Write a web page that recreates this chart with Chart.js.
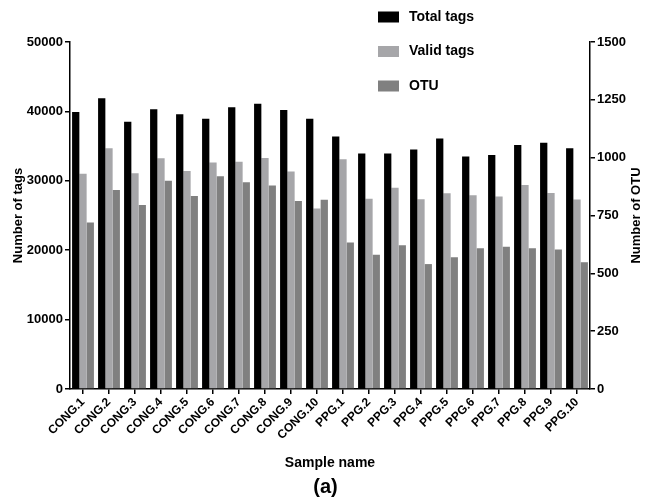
<!DOCTYPE html>
<html>
<head>
<meta charset="utf-8">
<script src="https://cdn.jsdelivr.net/npm/chart.js@4/dist/chart.umd.min.js"></script>
<style>
  html, body { margin: 0; padding: 0; background: #fff; }
</style>
</head>
<body>
<canvas id="bar-chart" width="651" height="500"></canvas>
<script>
// sample names
var samples = ["CONG.1", "CONG.2", "CONG.3", "CONG.4", "CONG.5", "CONG.6", "CONG.7", "CONG.8", "CONG.9", "CONG.10",
               "PPG.1", "PPG.2", "PPG.3", "PPG.4", "PPG.5", "PPG.6", "PPG.7", "PPG.8", "PPG.9", "PPG.10"];
// number of tags (left axis)
var totalTags = [39900, 41900, 38500, 40300, 39600, 38950, 40600, 41100, 40200, 38950,
                 36400, 33950, 33950, 34500, 36100, 33500, 33700, 35150, 35500, 34700];
var validTags = [31000, 34700, 31100, 33250, 31400, 32650, 32750, 33300, 31350, 26000,
                 33100, 27400, 29000, 27350, 28200, 27900, 27750, 29400, 28250, 27300];
// number of OTU (right axis)
var otu = [720, 860, 795, 900, 834, 920, 894, 880, 813, 818,
           633, 580, 621, 540, 570, 608, 615, 608, 603, 548];

var FONT = "'Liberation Sans', Arial, Helvetica, sans-serif";

// legend drawn as a vertical list at the top right,
// plus the right axis title (reads bottom to top like the left one)
var extras = {
    id: 'extras',
    afterDraw: function(chart) {
        var ctx = chart.ctx;
        ctx.save();
        ctx.font = "bold 14px " + FONT;
        ctx.textBaseline = 'middle';
        ctx.textAlign = 'left';
        chart.data.datasets.forEach(function(ds, i) {
            var y = 17 + i * 34.5;
            ctx.fillStyle = ds.backgroundColor;
            ctx.fillRect(378, y - 5.5, 21, 11);
            ctx.fillStyle = '#000';
            ctx.fillText(ds.label, 409, y);
        });

        var area = chart.chartArea;
        ctx.translate(636, (area.top + area.bottom) / 2);
        ctx.rotate(-Math.PI / 2);
        ctx.font = "bold 13px " + FONT;
        ctx.textAlign = 'center';
        ctx.fillText('Number of OTU', 0, 0);
        ctx.restore();
    }
};

new Chart(document.getElementById("bar-chart"), {
    type: 'bar',
    data: {
        labels: samples,
        datasets: [
            {
                label: "Total tags",
                backgroundColor: "#000000",
                data: totalTags,
                yAxisID: 'y'
            },
            {
                label: "Valid tags",
                backgroundColor: "#a6a6a9",
                data: validTags,
                yAxisID: 'y'
            },
            {
                label: "OTU",
                backgroundColor: "#808080",
                data: otu,
                yAxisID: 'y2'
            }
        ]
    },
    options: {
        responsive: false,
        animation: false,
        layout: {
            padding: { top: 42, left: 0, right: 0, bottom: 0 }
        },
        datasets: {
            bar: {
                barPercentage: 1.0,
                categoryPercentage: 0.84
            }
        },
        plugins: {
            legend: { display: false },
            tooltip: { enabled: false },
            title: {
                display: true,
                position: 'bottom',
                text: '(a)',
                color: '#000',
                font: { family: FONT, size: 20, weight: 'bold' },
                padding: { top: 3, bottom: 1 }
            }
        },
        scales: {
            x: {
                afterFit: function(scale) { scale.height = 83; },
                grid: { display: true, offset: false, drawOnChartArea: false, color: '#000', tickLength: 5, lineWidth: 1.5 },
                border: { color: '#000', width: 1.5 },
                ticks: {
                    color: '#000',
                    minRotation: 45,
                    maxRotation: 45,
                    padding: 1,
                    font: { family: FONT, size: 12, weight: 'bold' }
                },
                title: {
                    display: true,
                    text: 'Sample name',
                    color: '#000',
                    font: { family: FONT, size: 14, weight: 'bold' },
                    padding: { top: 0, bottom: 0 }
                }
            },
            y: {
                position: 'left',
                min: 0,
                max: 50000,
                afterFit: function(scale) { scale.width = 70; },
                grid: { display: true, drawOnChartArea: false, color: '#000', tickLength: 5, lineWidth: 1.5 },
                border: { color: '#000', width: 1.5 },
                ticks: {
                    stepSize: 10000,
                    color: '#000',
                    padding: 2,
                    font: { family: FONT, size: 13, weight: 'bold' },
                    callback: function(v) { return String(v); }
                },
                title: {
                    display: true,
                    text: 'Number of tags',
                    color: '#000',
                    font: { family: FONT, size: 13, weight: 'bold' },
                    padding: { top: 11, bottom: 0 }
                }
            },
            y2: {
                position: 'right',
                min: 0,
                max: 1500,
                afterFit: function(scale) { scale.width = 61; },
                grid: { display: true, drawOnChartArea: false, color: '#000', tickLength: 5, lineWidth: 1.5 },
                border: { color: '#000', width: 1.5 },
                ticks: {
                    stepSize: 250,
                    color: '#000',
                    padding: 2,
                    font: { family: FONT, size: 13, weight: 'bold' },
                    callback: function(v) { return String(v); }
                }
            }
        }
    },
    plugins: [extras]
});
</script>
</body>
</html>
